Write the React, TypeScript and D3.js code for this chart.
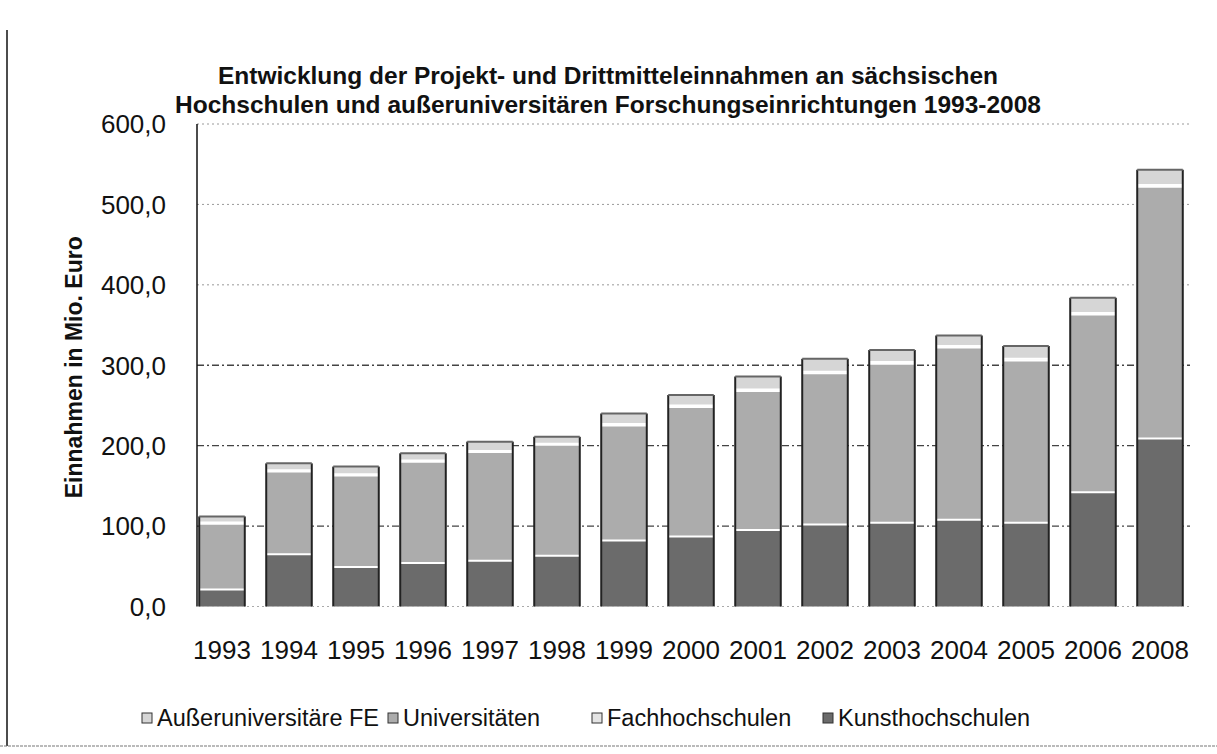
import React from "react";
import * as d3 from "d3";

// Jahre (2007 fehlt im Original)
const years = ["1993", "1994", "1995", "1996", "1997", "1998", "1999", "2000", "2001", "2002", "2003", "2004", "2005", "2006", "2008"];

// Mio. Euro
const kunsthochschulen = [21, 65, 49, 54, 57, 63, 82, 87, 95, 102, 104, 108, 104, 142, 209];
const universitaeten = [82, 103, 114, 126, 135, 138, 143, 161, 173, 188, 198, 214, 202, 221, 313];
const fachhochschulen = [1.5, 1.5, 1.5, 1.5, 1.5, 1.5, 2, 2, 2, 2, 2, 2, 2, 2, 2];
const ausseruniversitaere = [7.5, 8.5, 9.5, 9, 11.5, 8.5, 13, 13, 16, 16, 15, 13, 16, 19, 19];

const yTicks = [0, 100, 200, 300, 400, 500, 600];

// bottom -> top
const keys = ["Kunsthochschulen", "Universitäten", "Fachhochschulen", "Außeruniversitäre FE"];
const legendOrder = ["Außeruniversitäre FE", "Universitäten", "Fachhochschulen", "Kunsthochschulen"];

const colors: Record<string, string> = {
  "Kunsthochschulen": "#6b6b6b",
  "Universitäten": "#acacac",
  "Fachhochschulen": "#e4e4e4",
  "Außeruniversitäre FE": "#d6d6d6",
};

const rows = years.map((year, i) => ({
  year,
  "Kunsthochschulen": kunsthochschulen[i],
  "Universitäten": universitaeten[i],
  "Fachhochschulen": fachhochschulen[i],
  "Außeruniversitäre FE": ausseruniversitaere[i],
}));

const font = "'Liberation Sans', Arial, sans-serif";
const fmt = (v: number) => d3.format(".1f")(v).replace(".", ",");

export default function App() {
  const width = 1217;
  const height = 754;

  const x = d3.scaleBand().domain(years).range([188.5, 1193.5]).padding(0);
  const y = d3.scaleLinear().domain([0, 600]).range([606.5, 124]);
  const barW = x.bandwidth() * 0.68;

  const layers = d3.stack<any>().keys(keys)(rows);
  const totals = rows.map((r) => keys.reduce((s, k) => s + (r as any)[k], 0));

  const legendX = [142, 388, 592, 823];

  return (
    <svg width={width} height={height} style={{ position: "absolute", left: 0, top: 0, background: "#fff" }} fontFamily={font}>
      {/* frame */}
      <line x1={7} x2={7} y1={30} y2={746} stroke="#111" strokeWidth={1.5} />
      <line x1={0} x2={1217} y1={746} y2={746} stroke="#777" strokeWidth={1.2} strokeDasharray="3,1" />

      {/* title */}
      <text x={608} y={84} textAnchor="middle" fontSize={24.5} fontWeight="bold" fill="#111">
        Entwicklung der Projekt- und Drittmitteleinnahmen an sächsischen
      </text>
      <text x={608} y={113} textAnchor="middle" fontSize={24.5} fontWeight="bold" fill="#111">
        Hochschulen und außeruniversitären Forschungseinrichtungen 1993-2008
      </text>

      {/* grid */}
      {yTicks.filter((t) => t > 0).map((t) => (
        <line
          key={t}
          x1={197}
          x2={1190}
          y1={y(t)}
          y2={y(t)}
          stroke={t <= 300 ? "#444" : "#999"}
          strokeWidth={t <= 300 ? 1.3 : 1}
          strokeDasharray={t <= 300 ? "7,3,2,3" : "2,3"}
        />
      ))}

      {/* y ticks */}
      {yTicks.map((t) => (
        <text key={t} x={166} y={y(t)} dy="0.36em" textAnchor="end" fontSize={26} fill="#111">
          {fmt(t)}
        </text>
      ))}
      <text
        transform={`translate(82,${(y(0) + y(600)) / 2 + 2}) rotate(-90)`}
        textAnchor="middle"
        fontSize={23}
        fontWeight="bold"
        fill="#111"
      >
        Einnahmen in Mio. Euro
      </text>

      {/* bars */}
      {layers.map((layer) => (
        <g key={layer.key} fill={colors[layer.key]}>
          {layer.map((d, i) => (
            <rect
              key={i}
              x={(x(years[i]) as number) + (x.bandwidth() - barW) / 2}
              y={y(d[1])}
              width={barW}
              height={y(d[0]) - y(d[1])}
            />
          ))}
        </g>
      ))}
      {/* white separators between segments */}
      {layers.slice(0, -1).map((layer) => (
        <g key={"sep" + layer.key} stroke="#fff" strokeWidth={2}>
          {layer.map((d, i) => {
            const x0 = (x(years[i]) as number) + (x.bandwidth() - barW) / 2;
            return <line key={i} x1={x0} x2={x0 + barW} y1={y(d[1])} y2={y(d[1])} />;
          })}
        </g>
      ))}
      {/* bar outlines */}
      {years.map((yr, i) => {
        const x0 = (x(yr) as number) + (x.bandwidth() - barW) / 2;
        return (
          <g key={"o" + yr} fill="none">
            <line x1={x0} x2={x0} y1={y(totals[i])} y2={y(0)} stroke="#222" strokeWidth={2} />
            <line x1={x0 + barW} x2={x0 + barW} y1={y(totals[i])} y2={y(0)} stroke="#222" strokeWidth={2} />
            <line x1={x0} x2={x0 + barW} y1={y(totals[i])} y2={y(totals[i])} stroke="#666" strokeWidth={2} />
          </g>
        );
      })}

      {/* y axis line */}
      <line x1={197} x2={197} y1={y(600)} y2={y(0)} stroke="#111" strokeWidth={1.5} />
      <line x1={197} x2={1190} y1={y(0)} y2={y(0)} stroke="#aaa" strokeWidth={1} strokeDasharray="2,3" />

      {/* x labels */}
      {years.map((yr) => (
        <text key={yr} x={(x(yr) as number) + x.bandwidth() / 2} y={659} textAnchor="middle" fontSize={26} fill="#111">
          {yr}
        </text>
      ))}

      {/* legend */}
      {legendOrder.map((k, i) => (
        <g key={k} transform={`translate(${legendX[i]},718)`}>
          <rect x={0} y={-5} width={10} height={10} fill={colors[k]} stroke="#333" strokeWidth={1} />
          <text x={15} y={0} dy="0.36em" fontSize={23.5} fill="#111">
            {k}
          </text>
        </g>
      ))}
    </svg>
  );
}
